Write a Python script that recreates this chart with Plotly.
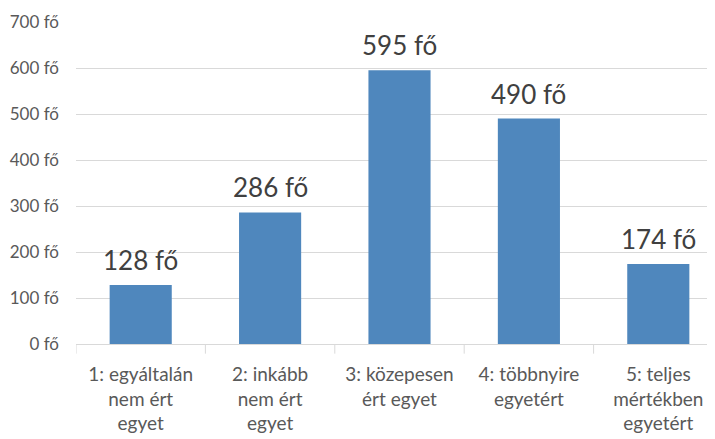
import plotly.graph_objects as go

categories = ["1: egyáltalán<br>nem ért<br>egyet", "2: inkább<br>nem ért<br>egyet",
              "3: közepesen<br>ért egyet", "4: többnyire<br>egyetért",
              "5: teljes<br>mértékben<br>egyetért"]
values = [128, 286, 595, 490, 174]
value_labels = [f"{v} fő" for v in values]
y_ticks = [0, 100, 200, 300, 400, 500, 600, 700]
y_tick_labels = [f"{v} fő" for v in y_ticks]

fig = go.Figure(go.Bar(
    x=list(range(len(categories))), y=values,
    marker=dict(color="#4f87bd", line=dict(width=0)),
    width=0.48,
))
for i, (v, t) in enumerate(zip(values, value_labels)):
    fig.add_annotation(x=i, y=v, text=t, showarrow=False, yanchor="bottom", yshift=7,
                       font=dict(size=26, color="#404040", family="Lato"))
fig.update_layout(
    width=715, height=439,
    margin=dict(l=68, r=0, t=14, b=103),
    paper_bgcolor="white", plot_bgcolor="white",
    font=dict(family="Lato", color="#595959"),
    showlegend=False,
)
fig.update_xaxes(
    tickmode="array", tickvals=list(range(len(categories))), ticktext=categories,
    range=[-0.5, 4.5], showgrid=False, showline=True, linecolor="#d9d9d9",
    tickfont=dict(size=19, color="#595959"), ticks="", zeroline=False,
    automargin=False, ticklabelstandoff=13,
)
# boundary tick marks
for b in [-0.5, 0.5, 1.5, 2.5, 3.5]:
    fig.add_shape(type="line", xref="x", yref="paper", x0=b, x1=b, y0=0, y1=-0.03,
                  line=dict(color="#d9d9d9", width=1))
fig.update_yaxes(
    range=[0, 700], tickvals=y_ticks, ticktext=y_tick_labels,
    showgrid=True, gridcolor="#d9d9d9", zeroline=False, showline=False,
    tickfont=dict(size=17, color="#595959"), ticklabelstandoff=16, automargin=False,
)
fig.write_html("out.html")
